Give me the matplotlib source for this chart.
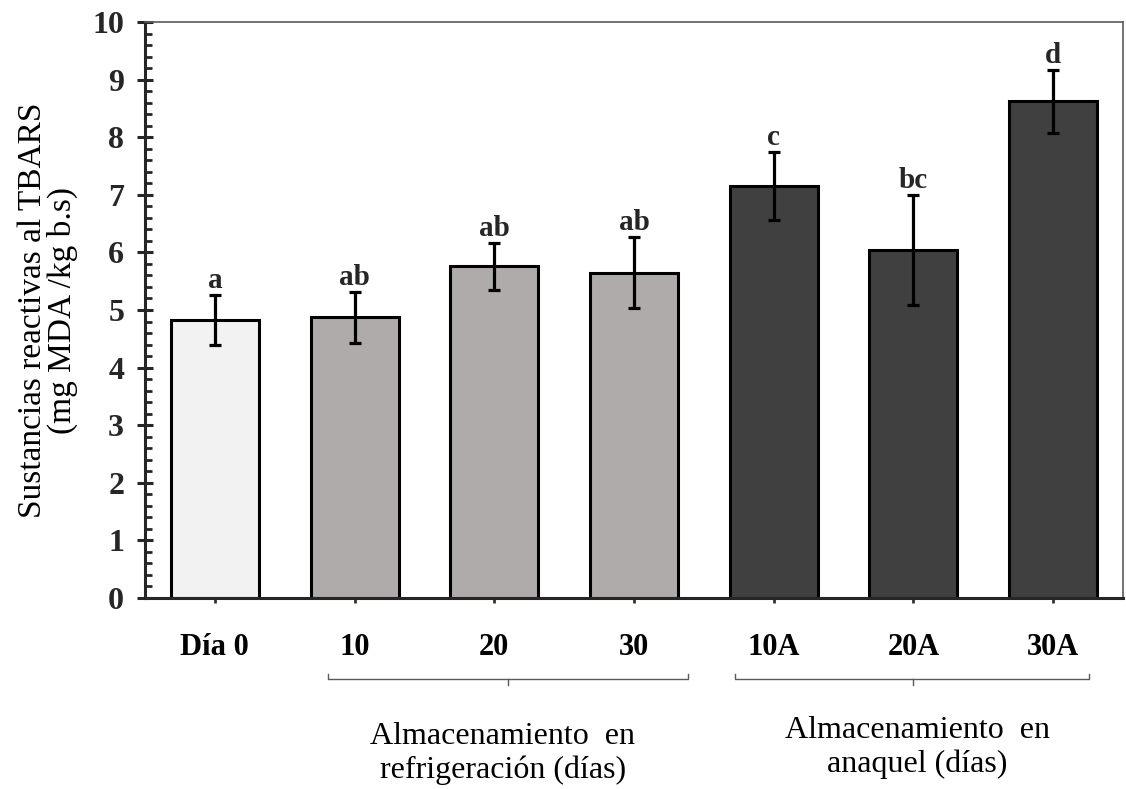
import matplotlib

matplotlib.use("Agg")

import matplotlib.pyplot as plt  # noqa: E402
import matplotlib.transforms as mtransforms  # noqa: E402
from matplotlib.lines import Line2D  # noqa: E402
from matplotlib.ticker import MultipleLocator  # noqa: E402

# ---------------------------------------------------------------- data
categories = ["Día 0", "10", "20", "30", "10A", "20A", "30A"]
tbars = [4.83, 4.87, 5.76, 5.65, 7.16, 6.04, 8.62]
err = [0.43, 0.45, 0.41, 0.62, 0.59, 0.96, 0.54]
letters = ["a", "ab", "ab", "ab", "c", "bc", "d"]
colors = ["#f2f2f2", "#afabab", "#afabab", "#afabab", "#404040", "#404040", "#404040"]

SERIF = ["Liberation Serif", "DejaVu Serif"]
plt.rcParams["font.family"] = SERIF

W, H = 1126, 789
fig = plt.figure(figsize=(W / 100, H / 100), dpi=100)
ax = fig.add_axes([145 / W, 1 - 598 / H, (1123 - 145) / W, (598 - 22) / H])

x = list(range(len(categories)))
ax.bar(x, tbars, width=0.63, color=colors, edgecolor="black", linewidth=2.2, zorder=2)
ax.errorbar(
    x, tbars, yerr=err, fmt="none", ecolor="black", elinewidth=2.3, capsize=4.3, capthick=2.3, zorder=3
)

for xi, v, e, lab in zip(x, tbars, err, letters):
    ax.annotate(
        lab,
        (xi, v + e),
        xytext=(0, 5),
        textcoords="offset points",
        ha="center",
        va="baseline",
        fontsize=21,
        fontweight="bold",
        color="#262626",
    )

ax.set_xlim(-0.5, 6.5)
ax.set_ylim(0, 10)
ax.yaxis.set_major_locator(MultipleLocator(1))
ax.yaxis.set_minor_locator(MultipleLocator(0.2))
ax.set_xticks(x)
ax.set_xticklabels(categories, fontsize=22, fontweight="bold")
for t in ax.get_yticklabels():
    t.set_fontsize(23)
    t.set_fontweight("bold")
    t.set_color("#262626")

ax.tick_params(axis="y", which="major", direction="inout", length=12, width=2.2, pad=9, color="#262626")
ax.tick_params(axis="y", which="minor", direction="in", length=5, width=2.0, color="#262626")
ax.tick_params(axis="x", which="major", direction="out", length=3.5, width=2.0, pad=22, color="#333333")

for side in ("left", "bottom"):
    ax.spines[side].set_linewidth(2.2)
    ax.spines[side].set_color("#262626")
for side in ("top", "right"):
    ax.spines[side].set_linewidth(1.2)
    ax.spines[side].set_color("#5a5a5a")

ax.set_ylabel("Sustancias reactivas al TBARS\n(mg MDA /kg b.s)", fontsize=24, linespacing=0.95)
ax.yaxis.set_label_coords(-0.068, 0.5)

# ---------------------------------------------------------------- group brackets
trans = mtransforms.blended_transform_factory(ax.transData, fig.transFigure)


def bracket(x0, x1, xm):
    yb, yt, yd = 1 - 679 / H, 1 - 674 / H, 1 - 685 / H
    for xs, ys in (([x0, x0, x1, x1], [yt, yb, yb, yt]), ([xm, xm], [yb, yd])):
        fig.add_artist(Line2D(xs, ys, transform=trans, color="#5a5a5a", lw=1.0))


bracket(0.81, 3.39, 2.1)
bracket(3.72, 6.26, 5.0)

fig.text(
    2.06, 1 - 722 / H, "Almacenamiento  en\nrefrigeración (días)", transform=trans,
    ha="center", va="top", fontsize=23, linespacing=1.2,
)
fig.text(
    5.03, 1 - 716 / H, "Almacenamiento  en\nanaquel (días)", transform=trans,
    ha="center", va="top", fontsize=23, linespacing=1.2,
)

fig.savefig("out.png", dpi=100, facecolor="white")
